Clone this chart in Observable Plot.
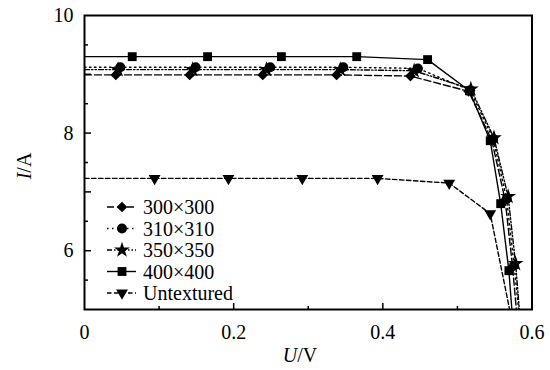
<!DOCTYPE html>
<html><head><meta charset="utf-8">
<script src="https://cdn.jsdelivr.net/npm/d3@7"></script>
<script src="https://cdn.jsdelivr.net/npm/@observablehq/plot@0.6"></script>
<style>
body{margin:0;background:#fff;}
#chart{width:550px;height:370px;}
</style></head><body><div id="chart"></div>
<script>
// ---- data ----
const seriesNames = ["300×300", "310×310", "350×350", "400×400", "Untextured"];
const u300 = [0, 0.042, 0.141, 0.239, 0.338, 0.437, 0.515, 0.546, 0.564, 0.574, 0.579];
const i300 = [8.99, 8.99, 8.99, 8.99, 8.99, 8.97, 8.71, 7.88, 6.86, 5.72, 5.0];
const u310 = [0, 0.048, 0.149, 0.249, 0.347, 0.447, 0.517, 0.548, 0.566, 0.576, 0.582];
const i310 = [9.12, 9.12, 9.12, 9.12, 9.12, 9.10, 8.73, 7.90, 6.88, 5.75, 5.0];
const u350 = [0, 0.045, 0.145, 0.244, 0.343, 0.442, 0.518, 0.549, 0.568, 0.578, 0.583];
const i350 = [9.08, 9.08, 9.08, 9.08, 9.08, 9.06, 8.75, 7.92, 6.92, 5.78, 5.0];
const u400 = [0, 0.064, 0.165, 0.264, 0.365, 0.460, 0.516, 0.544, 0.558, 0.569, 0.573];
const i400 = [9.30, 9.30, 9.30, 9.30, 9.30, 9.25, 8.72, 7.87, 6.80, 5.66, 5.0];
const uUn = [0, 0.094, 0.193, 0.292, 0.393, 0.489, 0.544, 0.570];
const iUn = [7.23, 7.23, 7.23, 7.23, 7.23, 7.15, 6.63, 5.0];
const xTickLabels = [0, 0.2, 0.4, 0.6];
const xMajorTicks = [0.2, 0.4];
const xMinorTicks = [0.1, 0.3, 0.5];
const yTickLabels = [6, 8, 10];
const yMajorTicks = [6, 7, 8, 9];
const yMinorTicks = [5.5, 6.5, 7.5, 8.5, 9.5];

// ---- styles ----
const triangleDown = {
  draw(ctx, size) {
    const a = Math.sqrt(4 * size / Math.sqrt(3)), h = a * Math.sqrt(3) / 2;
    ctx.moveTo(-a / 2, -h / 3); ctx.lineTo(a / 2, -h / 3); ctx.lineTo(0, 2 * h / 3); ctx.closePath();
  }
};
const styles = [
  {u: u300, i: i300, symbol: "diamond2", r: 4.8, dash: "7,3"},
  {u: u310, i: i310, symbol: "circle", r: 5, dash: "1.5,3.5"},
  {u: u350, i: i350, symbol: "star", r: 5, dash: "5,2,1.5,2,1.5,2"},
  {u: u400, i: i400, symbol: "square", r: 5, dash: null},
  {u: uUn, i: iUn, symbol: triangleDown, r: 4.4, dash: "4.5,2.5"}
];
const series = seriesNames.map((name, k) => ({
  name, ...styles[k],
  rows: styles[k].u.map((u, j) => ({u, i: styles[k].i[j]}))
}));

const W = 550, H = 370, mL = 84, mR = 18.5, mT = 15, mB = 61;
const pw = W - mL - mR, ph = H - mT - mB;
const font = "Liberation Serif";

const marks = [];
for (const s of series) {
  marks.push(Plot.line(s.rows, {x: "u", y: "i", stroke: "black", strokeWidth: 1.4,
    strokeDasharray: s.dash || undefined, clip: true}));
}
for (const s of series) {
  marks.push(Plot.dot(s.rows.filter(d => d.u > 0 && d.i > 5), {x: "u", y: "i", symbol: () => s.symbol,
    r: s.r, fill: "black", stroke: "none"}));
}
marks.push(
  Plot.tickY(yMajorTicks, {y: d => d, stroke: "black", strokeWidth: 1.5, insetRight: pw - 7}),
  Plot.tickY(yMinorTicks, {y: d => d, stroke: "black", strokeWidth: 1.5, insetRight: pw - 4}),
  Plot.tickX(xMajorTicks, {x: d => d, stroke: "black", strokeWidth: 1.5, insetTop: ph - 6}),
  Plot.tickX(xMinorTicks, {x: d => d, stroke: "black", strokeWidth: 1.5, insetTop: ph - 3}),
  Plot.axisX({ticks: xTickLabels, tickSize: 0, tickPadding: 15, label: null, fontSize: 20,
    tickFormat: d => String(d)}),
  Plot.axisY({ticks: yTickLabels, tickSize: 0, tickPadding: 11, label: null, fontSize: 20,
    tickFormat: d => String(d)}),
  Plot.frame({stroke: "black", strokeWidth: 2})
);

const plot = Plot.plot({
  width: W, height: H,
  marginLeft: mL, marginRight: mR, marginTop: mT, marginBottom: mB,
  style: {fontFamily: font, fontSize: "20px", color: "black", background: "white"},
  x: {domain: [0, 0.6]},
  y: {domain: [5, 10]},
  symbol: {type: "identity"},
  marks
});
document.getElementById("chart").appendChild(plot);

// ---- axis titles & legend ----
const svg = d3.select(plot);
const xt = svg.append("text").attr("x", 300).attr("y", 362).attr("text-anchor", "middle")
  .attr("font-size", 20).attr("fill", "black");
xt.append("tspan").attr("font-style", "italic").text("U");
xt.append("tspan").text("/V");
const yt = svg.append("text").attr("transform", "translate(31,166) rotate(-90)").attr("text-anchor", "middle")
  .attr("font-size", 20).attr("fill", "black");
yt.append("tspan").attr("font-style", "italic").text("I");
yt.append("tspan").text("/A");

const lg = svg.append("g");
const rowY = [207, 228.5, 250, 271.5, 293];
series.forEach((s, k) => {
  const y = rowY[k];
  lg.append("line").attr("x1", 107).attr("x2", 136).attr("y1", y).attr("y2", y)
    .attr("stroke", "black").attr("stroke-width", 1.4).attr("stroke-dasharray", s.dash || null);
  const sym = d3.symbol(typeof s.symbol === "string" ? ({diamond2: d3.symbolDiamond2, circle: d3.symbolCircle,
    star: d3.symbolStar, square: d3.symbolSquare})[s.symbol] : s.symbol, s.r * s.r * Math.PI);
  lg.append("path").attr("d", sym()).attr("transform", `translate(122,${y})`).attr("fill", "black");
  lg.append("text").attr("x", 143).attr("y", y).attr("dy", "0.35em").attr("text-anchor", "start")
    .attr("font-size", 20).attr("fill", "black").text(s.name);
});
svg.attr("font-family", font);
svg.selectAll("g, text, tspan").attr("font-family", font).style("font-family", font);
</script></body></html>
